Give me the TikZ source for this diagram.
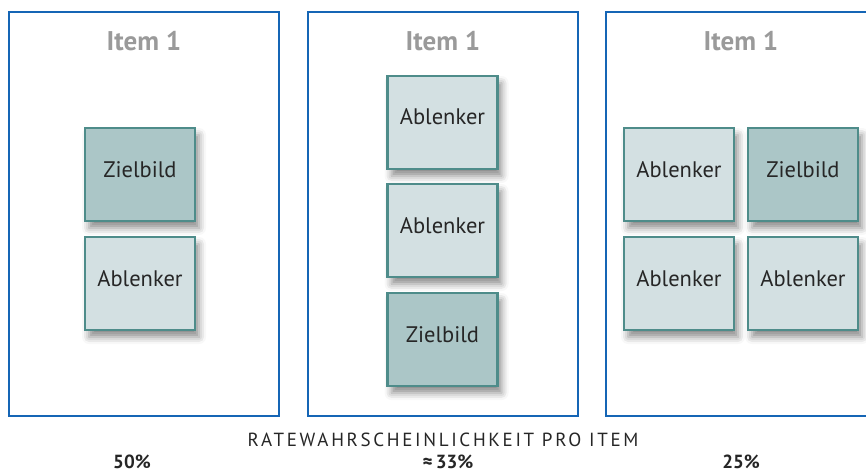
\documentclass[tikz,border=0pt]{standalone}
\usepackage{fontspec}
\setmainfont{PT Sans}
\newfontfamily\capsfont[LetterSpace=14]{PT Sans}
\usetikzlibrary{shadows.blur}

\definecolor{panelblue}{HTML}{1565B5}
\definecolor{boxedge}{HTML}{4E8C8A}
\definecolor{lightfill}{HTML}{D3E0E2}
\definecolor{darkfill}{HTML}{ABC6C7}
\definecolor{itemgray}{HTML}{9A9A9A}

\begin{document}
\begin{tikzpicture}[x=1pt,y=-1pt,
panel/.style={draw=panelblue,line width=2.2pt},
choice/.style={draw=boxedge,line width=2.4pt,minimum width=110pt,minimum height=93pt,
  text height=17pt,text depth=12pt,
  font=\fontsize{22.5}{26}\selectfont,text=black!85,
  blur shadow={shadow xshift=4pt,shadow yshift=-7pt,shadow blur radius=7pt,shadow opacity=45}},
distractor/.style={choice,fill=lightfill},
target/.style={choice,fill=darkfill},
itemlabel/.style={font=\fontsize{27}{31}\selectfont\bfseries,text=itemgray},
rate/.style={font=\fontsize{19}{22}\selectfont\bfseries,text=black!85}]
\useasboundingbox (0,0) rectangle (866,473);
\clip (0,0) rectangle (866,473);
% panels
\draw[panel] (9,12) rectangle (279,416);
\draw[panel] (308,12) rectangle (578,416);
\draw[panel] (606,12) rectangle (880,416);
\node[itemlabel] (t1) at (144,41) {Item 1};
\node[itemlabel] (t2) at (443,41) {Item 1};
\node[itemlabel] (t3) at (741,41) {Item 1};
% two choices
\node[target] (a1) at (140,174.5) {Zielbild};
\node[distractor] (a2) at (140,283.5) {Ablenker};
% three choices
\node[distractor] (b1) at (442.5,122.5) {Ablenker};
\node[distractor] (b2) at (442.5,230.5) {Ablenker};
\node[target] (b3) at (442.5,339.5) {Zielbild};
% four choices
\node[distractor] (c1) at (679,174.5) {Ablenker};
\node[target] (c2) at (803,174.5) {Zielbild};
\node[distractor] (c3) at (679,283.5) {Ablenker};
\node[distractor] (c4) at (803,283.5) {Ablenker};
% caption
\node[font=\capsfont\fontsize{19}{22}\selectfont,text=black!85] (cap) at (443,440) {RATEWAHRSCHEINLICHKEIT PRO ITEM};
\node[rate] (r1) at (132,462) {50\%};
\node[rate] (r2) at (448,462) {≈\,33\%};
\node[rate] (r3) at (741,462) {25\%};
\end{tikzpicture}
\end{document}
